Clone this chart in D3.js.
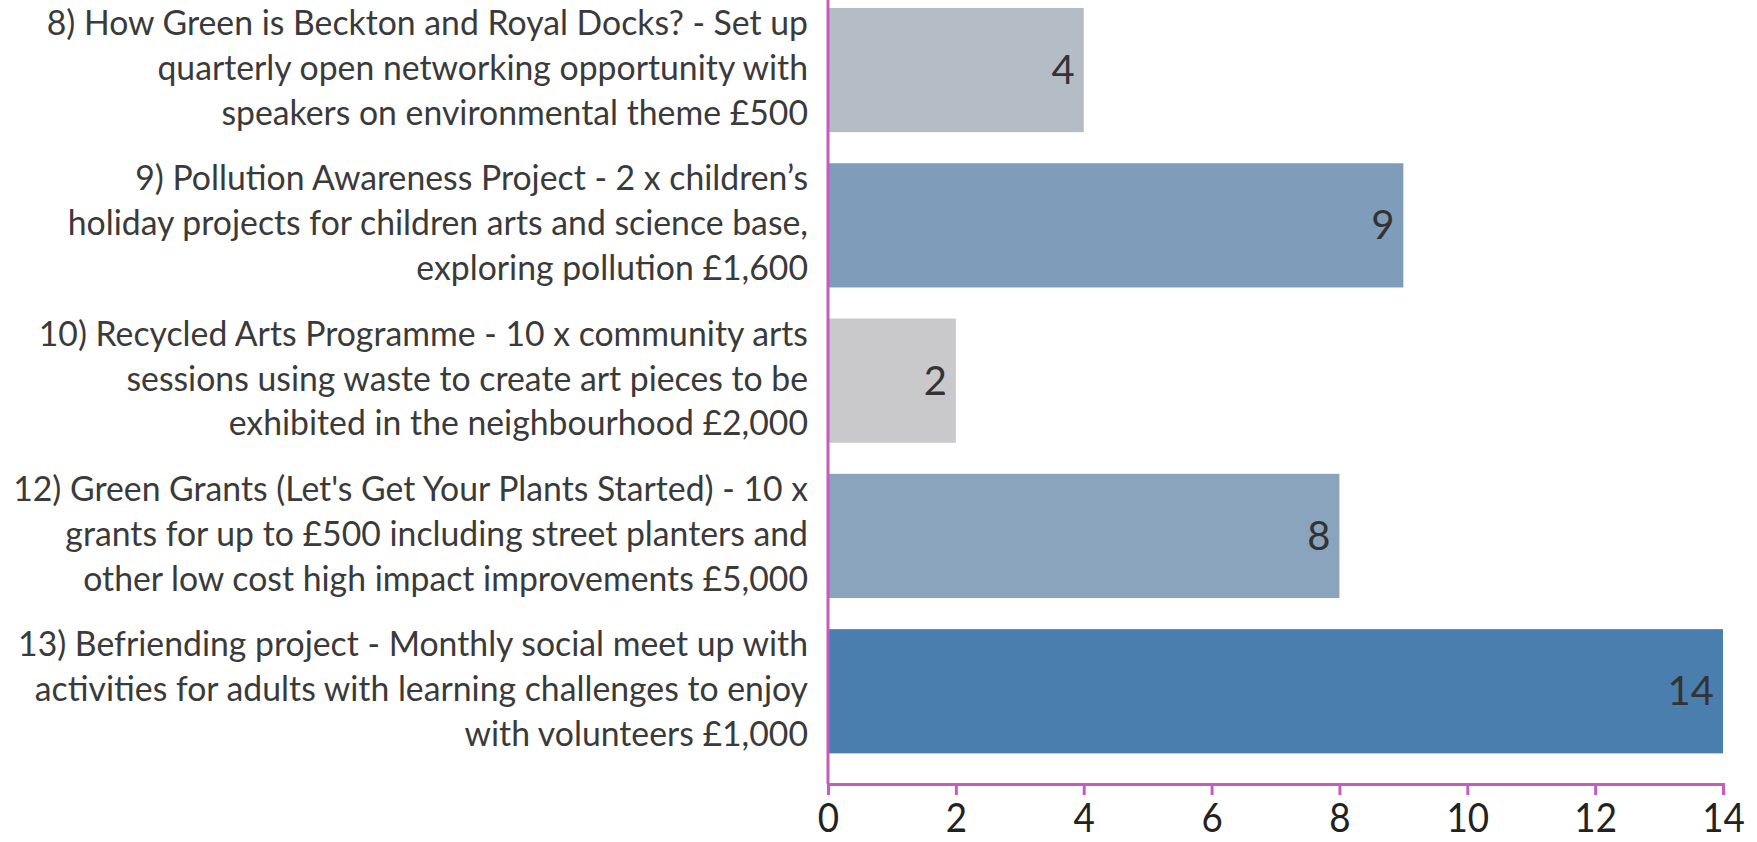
<!DOCTYPE html>
<html>
<head>
<meta charset="utf-8">
<script src="https://cdn.jsdelivr.net/npm/d3@7"></script>
<style>
  html, body { margin: 0; padding: 0; background: #fff; overflow: hidden; }
  svg { display: block; }
</style>
</head>
<body>
<svg id="chart"></svg>
<script>
// data
const categories = ["8", "9", "10", "12", "13"];
const labelLines = [
  ["8) How Green is Beckton and Royal Docks? - Set up", "quarterly open networking opportunity with", "speakers on environmental theme £500"],
  ["9) Pollution Awareness Project - 2 x children’s", "holiday projects for children arts and science base,", "exploring pollution £1,600"],
  ["10) Recycled Arts Programme - 10 x community arts", "sessions using waste to create art pieces to be", "exhibited in the neighbourhood £2,000"],
  ["12) Green Grants (Let's Get Your Plants Started) - 10 x", "grants for up to £500 including street planters and", "other low cost high impact improvements £5,000"],
  ["13) Befriending project - Monthly social meet up with", "activities for adults with learning challenges to enjoy", "with volunteers £1,000"]
];
const values = [4, 9, 2, 8, 14];
const xTicks = [0, 2, 4, 6, 8, 10, 12, 14];

const width = 1757, height = 842;
const font = "'Source Sans Pro', Lato, sans-serif";
const axisColor = "#c65bbf";

const svg = d3.select("#chart")
    .attr("width", width)
    .attr("height", height)
    .style("font-family", font);

const x = d3.scaleLinear()
    .domain([0, 14])
    .range([828, 1723]);

const y = d3.scaleBand()
    .domain(categories)
    .range([-7.6, 768.9])
    .paddingInner(0.2)
    .paddingOuter(0.1);

const color = d3.scaleLinear()
    .domain([d3.min(values), d3.max(values)])
    .range(["#c9c9cb", "#4a7eae"]);

const rows = categories.map((c, i) => ({ cat: c, value: values[i], lines: labelLines[i] }));

// bars
svg.append("g")
  .selectAll("rect")
  .data(rows)
  .join("rect")
    .attr("x", x(0))
    .attr("y", d => y(d.cat))
    .attr("width", d => x(d.value) - x(0))
    .attr("height", y.bandwidth())
    .attr("fill", d => color(d.value));

// value labels
svg.append("g")
  .selectAll("text")
  .data(rows)
  .join("text")
    .attr("x", d => x(d.value) - 9)
    .attr("y", d => y(d.cat) + y.bandwidth() / 2)
    .attr("dy", "0.35em")
    .attr("text-anchor", "end")
    .attr("fill", "#333")
    .style("font-size", "40px")
    .text(d => d.value);

// category labels; the source font is narrow, so squeeze to fit left of the axis
const labelG = svg.append("g")
    .attr("text-anchor", "end")
    .attr("fill", "#3a3a3a");

const fs = 34;
const lineH = 44.8;
const texts = labelG.selectAll("text")
  .data(rows)
  .join("text")
    .style("font-size", fs + "px");

texts.selectAll("tspan")
  .data(d => d.lines.map((l, j) => ({ l, j, n: d.lines.length })))
  .join("tspan")
    .attr("x", 0)
    .attr("y", d => (d.j - (d.n - 1) / 2) * lineH)
    .attr("dy", "0.35em")
    .text(d => d.l);

let maxW = 0;
texts.selectAll("tspan").each(function() {
  maxW = Math.max(maxW, this.getComputedTextLength());
});
const sx = maxW > 0 ? 795 / maxW : 1;
texts.attr("transform", d => `translate(808,${y(d.cat) + y.bandwidth() / 2 - 2}) scale(${sx},1)`);

// x axis
const xAxis = svg.append("g")
    .attr("transform", "translate(0,784)")
    .call(d3.axisBottom(x).tickValues(xTicks).tickSize(11).tickPadding(9).tickSizeOuter(11));
xAxis.select(".domain").attr("stroke", axisColor).attr("stroke-width", 3);
xAxis.selectAll(".tick line").attr("stroke", axisColor).attr("stroke-width", 3);
xAxis.selectAll(".tick text")
    .attr("fill", "#222")
    .style("font-family", font)
    .style("font-size", "40px")
    .attr("transform", "scale(0.92,1)");

// vertical axis line
svg.append("line")
    .attr("x1", x(0)).attr("x2", x(0))
    .attr("y1", 0).attr("y2", 784)
    .attr("stroke", axisColor)
    .attr("stroke-width", 3);
</script>
</body>
</html>
